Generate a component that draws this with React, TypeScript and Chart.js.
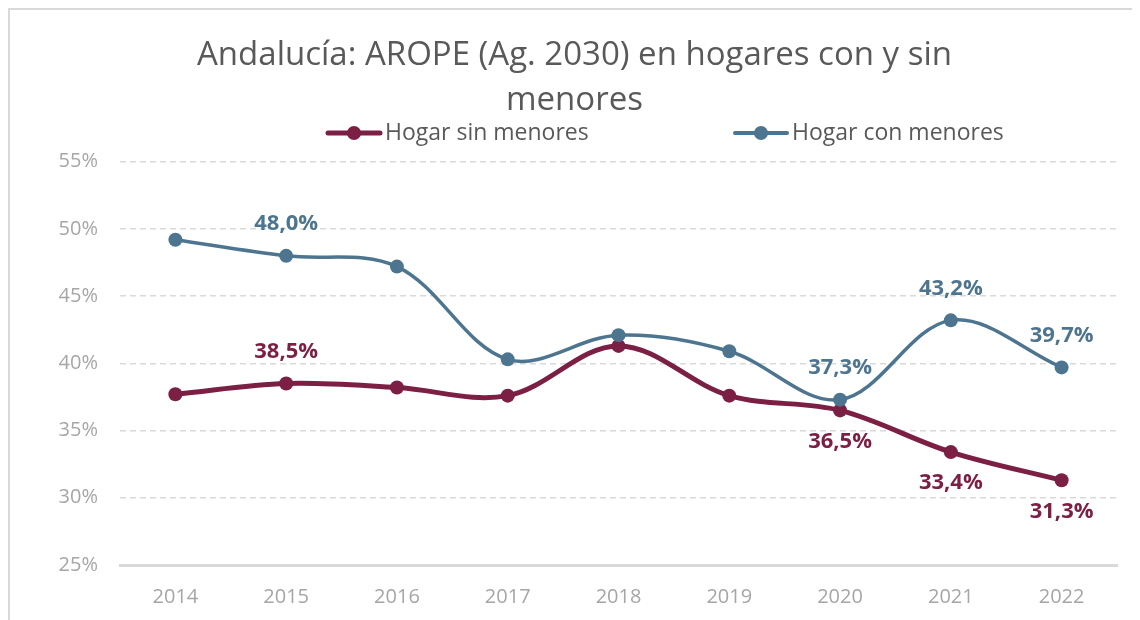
import React, { useEffect, useRef } from "react";
import { Chart, registerables } from "chart.js";

Chart.register(...registerables);

const years = ["2014", "2015", "2016", "2017", "2018", "2019", "2020", "2021", "2022"];
const sinMenores = [37.7, 38.5, 38.2, 37.6, 41.3, 37.6, 36.5, 33.4, 31.3];
const conMenores = [49.2, 48.0, 47.2, 40.3, 42.1, 40.9, 37.3, 43.2, 39.7];
const sinLabels = [null, "above", null, null, null, null, "below", "below", "below"];
const conLabels = [null, "above", null, null, null, null, "above", "above", "above"];
const titleLines = ["Andalucía: AROPE (Ag. 2030) en hogares con y sin", "menores"];
const seriesNames = ["Hogar sin menores", "Hogar con menores"];
const yMin = 25;
const yMax = 55;
const yStep = 5;

const RED = "#7B1F44";
const BLUE = "#4D7590";
const FONT = '"Open Sans", sans-serif';

const fmt = (v: number) => v.toFixed(1).replace(".", ",") + "%";

const pointLabelPlugin = {
  id: "pointLabels",
  afterDatasetsDraw(chart: any) {
    const ctx = chart.ctx;
    chart.data.datasets.forEach((ds: any, i: number) => {
      const meta = chart.getDatasetMeta(i);
      const pos = ds.labelPos as (string | null)[];
      meta.data.forEach((pt: any, j: number) => {
        const p = pos[j];
        if (!p) return;
        ctx.save();
        ctx.font = "bold 22px " + FONT;
        ctx.fillStyle = ds.borderColor;
        ctx.textAlign = "center";
        ctx.textBaseline = "middle";
        ctx.fillText(fmt(ds.data[j]), pt.x, pt.y + (p === "above" ? -32 : 31));
        ctx.restore();
      });
    });
  },
};

const legendPlugin = {
  id: "customLegend",
  afterDraw(chart: any) {
    const ctx = chart.ctx;
    const items = [
      { name: seriesNames[0], color: RED, width: 5, x: 316 },
      { name: seriesNames[1], color: BLUE, width: 4, x: 723 },
    ];
    const y = 123;
    items.forEach((it) => {
      ctx.save();
      ctx.strokeStyle = it.color;
      ctx.lineWidth = it.width;
      ctx.lineCap = "round";
      ctx.beginPath();
      ctx.moveTo(it.x + 2, y);
      ctx.lineTo(it.x + 54, y);
      ctx.stroke();
      ctx.fillStyle = it.color;
      ctx.beginPath();
      ctx.arc(it.x + 28, y, 7, 0, Math.PI * 2);
      ctx.fill();
      ctx.font = "23px " + FONT;
      ctx.fillStyle = "#595959";
      ctx.textAlign = "left";
      ctx.textBaseline = "middle";
      ctx.fillText(it.name, it.x + 59, y);
      ctx.restore();
    });
  },
};

export default function App() {
  const ref = useRef<HTMLCanvasElement>(null);

  useEffect(() => {
    document.body.style.overflow = "hidden";
    if (!ref.current) return;
    const chart = new Chart(ref.current, {
      type: "line",
      data: {
        labels: years,
        datasets: [
          {
            label: seriesNames[0],
            data: sinMenores,
            borderColor: RED,
            backgroundColor: RED,
            borderWidth: 5,
            pointRadius: 7,
            pointBackgroundColor: RED,
            pointBorderWidth: 0,
            tension: 0.35,
            order: 1,
            labelPos: sinLabels,
          } as any,
          {
            label: seriesNames[1],
            data: conMenores,
            borderColor: BLUE,
            backgroundColor: BLUE,
            borderWidth: 3.5,
            pointRadius: 7,
            pointBackgroundColor: BLUE,
            pointBorderWidth: 0,
            tension: 0.35,
            order: 0,
            labelPos: conLabels,
          } as any,
        ],
      },
      options: {
        animation: false,
        responsive: true,
        maintainAspectRatio: false,
        layout: { padding: { left: 22, right: 25, top: 0, bottom: 0 } },
        plugins: {
          legend: { display: false },
          tooltip: { enabled: false },
          title: {
            display: true,
            text: titleLines,
            color: "#595959",
            font: { family: FONT, size: 33, weight: "normal", lineHeight: 1.36 },
            padding: { top: 23, bottom: 39 },
          },
        },
        scales: {
          x: {
            offset: true,
            grid: { display: false, drawTicks: false },
            border: { display: true, color: "#d9d9d9", width: 3 },
            ticks: { color: "#a6a6a6", font: { family: FONT, size: 20 }, padding: 20 },
            afterFit: (s: any) => {
              s.height = 57;
            },
          },
          y: {
            min: yMin,
            max: yMax,
            grid: { color: "#d9d9d9", lineWidth: 1.5, drawTicks: false },
            border: { display: false, dash: [6, 4] },
            ticks: {
              stepSize: yStep,
              color: "#a6a6a6",
              font: { family: FONT, size: 20 },
              padding: 22,
              callback: (v: any) => v + "%",
            },
            afterFit: (s: any) => {
              s.width = 88;
            },
          },
        },
      },
      plugins: [pointLabelPlugin, legendPlugin],
    });
    return () => chart.destroy();
  }, []);

  return (
    <div
      style={{
        position: "relative",
        width: 1132,
        height: 612,
        borderTop: "2px solid #d9d9d9",
        borderLeft: "2px solid #d9d9d9",
      }}
    >
      <canvas ref={ref} />
    </div>
  );
}
